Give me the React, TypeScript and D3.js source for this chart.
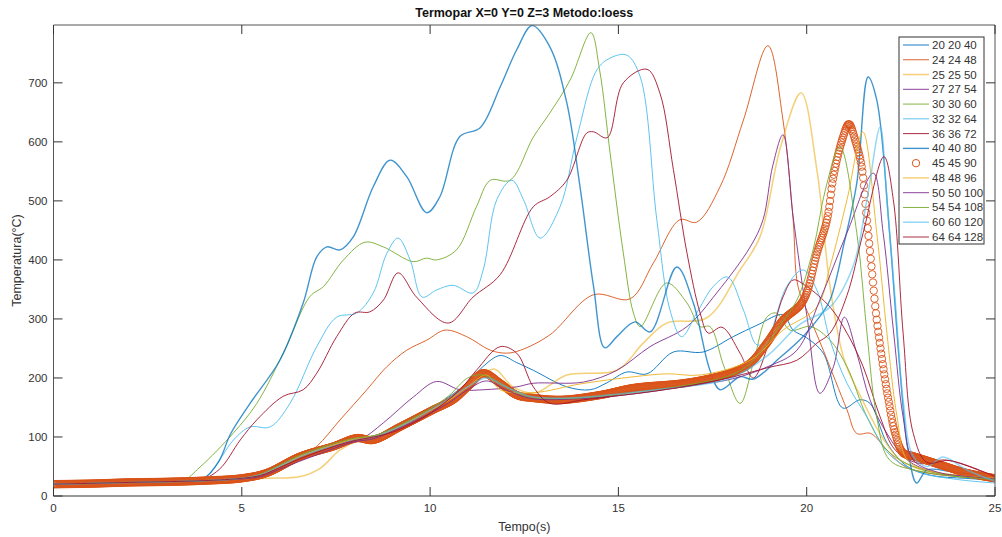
import React, { useEffect, useRef, useState } from 'react';
import * as d3 from 'd3';

const W = 1002, H = 537;
const PL = 53.5, PR = 995, PB = 496, PT = 25;
const FONT = "'Liberation Sans', Arial, Helvetica, sans-serif";

const xTicks = [0, 5, 10, 15, 20, 25];
const yTicks = [0, 100, 200, 300, 400, 500, 600, 700];
const title = 'Termopar X=0 Y=0 Z=3 Metodo:loess';
const xLabel = 'Tempo(s)';
const yLabel = 'Temperatura(°C)';

const T20 = [0,2,4,5,5.5,6,6.5,7,7.5,8,8.5,9,9.5,10,10.5,11,11.4,11.86,12.3,12.74,13.63,14.25,14.7,15.22,15.76,16.46,17.25,18.05,18.7,19.37,19.64,20.0,20.44,20.96,21.41,21.68,22.13,22.67,23.3,24.2,25];
const V20 = [20,23,26,30,36,50,64,76,86,95,102,112,126,145,168,192,219,238,226,213,185,180,192,210,207,244,244,270,290,307,281,268,242,149,163,157,90,50,35,30,27];

const T24 = [0,2,4,5,5.5,6,6.5,6.99,7.61,8.32,8.85,9.38,9.91,10.4,10.97,11.6,12.03,12.4,13.18,14.34,15.31,15.93,16.63,17.08,17.7,18.32,18.97,19.37,19.64,19.77,20.1,20.44,21.07,21.33,21.7,22.13,22.6,23.3,24.2,25];
const V24 = [20,23,26,30,36,48,62,84,129,180,219,247,264,281,270,247,242,247,273,341,334,395,468,464,524,637,763,637,468,355,300,247,146,106,106,78,50,38,32,28];

const T25 = [0,2,4,5,5.66,6.55,7.08,7.61,8.14,8.6,9.2,10,10.6,11.2,11.7,12.2,12.8,13.63,14.96,15.66,16.28,17.35,18.23,18.76,19.3,19.85,20.27,20.62,21.0,21.5,22.0,22.5,23.2,24.2,25];
const V25 = [20,23,25,28,30,33,47,78,95,100,115,145,165,195,215,185,175,205,213,259,293,302,383,439,590,683,553,355,230,160,100,60,42,34,30];

const T27 = [0,2,4,5,5.5,6,6.5,7,7.5,8.14,8.76,9.56,10.17,10.79,11.41,12.3,12.74,14.07,14.96,15.84,16.82,17.61,18.5,18.84,19.1,19.37,19.64,20.01,20.35,20.71,21.0,21.33,21.68,22.13,22.67,23.4,24.2,25];
const V27 = [20,23,26,29,34,45,60,72,84,95,124,168,194,180,180,185,191,193,213,253,287,344,422,468,560,612,473,303,174,219,303,242,163,106,61,40,33,29];

const T30 = [0,2,3.4,3.89,4.78,5.4,6.1,6.81,7.17,7.7,8.27,8.76,9.55,9.9,10.17,10.7,11.23,11.6,12.12,12.74,13.18,13.72,14.27,14.5,14.78,15.13,15.4,15.58,16.28,16.82,17.17,17.43,17.8,18.23,18.6,18.94,19.2,19.56,20.1,20.62,21.07,21.6,22.13,22.83,23.8,25];
const V30 = [20,23,25,49,107,157,242,338,355,400,430,422,397,403,400,417,490,535,535,608,649,705,785,722,581,412,310,287,361,327,287,287,220,157,230,303,310,281,287,264,219,134,78,50,35,28];

const T32 = [0,2,3.8,4.16,4.78,5.22,5.75,6.28,6.99,7.52,8.05,8.49,8.85,9.15,9.47,9.79,10.17,10.61,11.14,11.41,11.77,12.17,12.48,12.92,13.45,13.9,14.43,14.78,15.22,15.58,16.02,16.37,16.68,17.08,17.52,17.9,18.32,18.68,18.94,19.47,19.9,20.27,20.62,21.07,21.6,22.2,23,24,25];
const V32 = [20,23,25,39,95,117,117,157,253,303,310,344,411,437,400,337,349,357,344,383,502,535,502,437,490,608,722,742,747,710,468,315,270,310,355,371,315,256,264,355,383,349,264,191,134,70,40,28,22];

const T36 = [0,2,3.8,4.4,4.96,5.4,6.1,6.63,6.99,7.52,8.0,8.4,8.76,9.15,9.64,10.48,11.14,11.86,12.74,13.18,13.63,14.16,14.34,14.7,15.13,15.76,16.1,16.46,16.82,17.17,17.39,17.75,18.23,18.58,19.0,19.37,19.64,20.0,20.62,21.07,21.5,21.95,22.35,23.0,23.7,25];
const V36 = [20,23,25,45,95,129,169,180,208,270,310,312,332,378,337,293,337,375,490,507,535,615,617,607,700,723,683,553,412,310,276,286,242,200,260,337,366,355,320,276,219,134,78,55,61,32];

const T40 = [0,2,3.6,4.0,4.4,4.7,5.22,6.01,6.63,6.99,7.26,7.61,7.96,8.49,8.94,9.38,9.91,10.26,10.79,11.33,11.86,12.3,12.71,13.18,13.63,13.98,14.34,14.64,14.96,15.44,15.84,16.55,16.99,17.43,17.7,18.23,18.58,19.3,19.9,20.3,20.62,21.0,21.33,21.63,21.86,22.2,22.47,22.69,22.92,23.19,23.8,24.5,25];
const V40 = [20,23,25,30,60,105,157,230,327,405,422,417,439,524,569,541,480,507,609,624,693,756,797,761,666,524,355,251,270,295,278,388,327,213,180,202,198,235,270,300,332,430,530,710,671,446,219,78,22,44,42,35,30];

const T45 = [0,1,2,3,4,5,5.66,6.55,7.43,8.05,8.49,9.2,10.08,10.61,11.0,11.41,11.86,12.3,12.74,13.5,14.51,15.4,16.73,17.5,18.05,18.5,18.94,19.37,19.82,20.0,20.27,20.54,20.71,20.94,21.12,21.3,21.46,21.59,21.72,21.85,22.03,22.17,22.35,22.56,22.8,23.0,23.54,24.25,25];
const V45 = [20,21,23,24,26,30,39,67,84,98,95,117,146,163,185,208,191,171,166,163,171,183,191,200,210,225,259,298,323,344,411,468,541,603,630,600,558,473,389,304,219,163,106,73,68,64,53,39,30];

const T48 = [0,2,4,5,5.5,6,6.5,7,7.5,8,8.5,9,9.5,10,10.5,11,11.5,11.86,12.74,14,15.4,16.3,17.17,18.5,19.37,20.27,20.62,21.07,21.49,21.86,22.13,22.4,22.67,23.3,24.2,25];
const V48 = [20,23,26,30,36,50,66,78,88,97,102,112,128,145,162,185,205,180,175,190,202,207,205,230,281,320,389,502,617,446,276,134,61,42,34,30];

const T50 = [0,2,4,5,5.5,6,6.5,7,7.5,8,8.5,9,9.5,10,10.5,11,11.5,12,12.7,14,15,16,17,18,19,19.74,20.35,21.07,21.77,22.03,22.31,22.56,22.83,23.5,24.3,25];
const V50 = [20,23,26,29,33,45,58,70,82,92,97,110,124,140,158,180,195,180,165,165,170,178,188,198,220,247,332,446,547,446,276,134,61,40,33,29];

const T54 = [0,2,4,5,5.5,6,6.5,7,7.5,8,8.5,9,9.5,10,10.5,11,11.4,11.9,12.5,13.5,15,16,17,18,18.5,19,19.3,19.74,20.17,20.5,20.88,21.33,21.6,21.86,22.2,23,24,25];
const V54 = [20,23,26,30,37,52,68,80,90,98,102,114,130,148,170,200,205,190,170,165,172,180,190,205,225,262,290,332,417,520,592,446,276,134,61,42,33,28];

const T60 = [0,2,4,5,5.5,6,6.5,7,7.5,8,8.5,9,9.5,10,10.5,11,11.5,12,12.7,14,15,16,17,18,19,19.8,20.62,21.23,21.6,21.95,22.13,22.35,22.56,22.83,23.2,23.62,24.25,25];
const V60 = [20,23,26,30,36,50,65,77,86,95,100,112,127,145,165,185,200,185,168,167,173,180,187,200,240,290,320,389,502,625,502,332,163,67,50,66,44,25];

const T64 = [0,2,4,5,5.5,6,6.5,7,7.5,8,8.5,9,9.5,10,10.79,11.23,11.86,12.3,12.74,13.18,14.07,15,16,17,18.05,19.0,19.74,20.27,20.62,21.07,21.5,22.05,22.3,22.56,22.83,23.19,23.8,25];
const V64 = [20,23,26,30,35,48,62,74,85,94,100,108,122,140,180,213,253,242,185,157,163,170,178,188,202,218,230,259,276,340,446,575,502,276,106,57,60,33];

const legendNames = ['20 20 40','24 24 48','25 25 50','27 27 54','30 30 60','32 32 64','36 36 72','40 40 80','45 45 90','48 48 96','50 50 100','54 54 108','60 60 120','64 64 128'];
const seriesT = [T20,T24,T25,T27,T30,T32,T36,T40,T45,T48,T50,T54,T60,T64];
const seriesV = [V20,V24,V25,V27,V30,V32,V36,V40,V45,V48,V50,V54,V60,V64];
const colors = ['#0072BD','#D95319','#EDB120','#7E2F8E','#77AC30','#4DBEEE','#A2142F','#0072BD','#D95319','#EDB120','#7E2F8E','#77AC30','#4DBEEE','#A2142F'];
const widths = [1,1,1.5,1,1,1,1,1.4,0,1,1,1,1.5,1];
const opac = [0.9,0.9,0.6,0.9,0.9,0.9,0.9,0.75,1,0.9,0.9,0.9,0.6,0.9];
const MARKER_INDEX = 8;
const MARKER_STEP = 0.02;

export default function App() {
  const x = d3.scaleLinear().domain([0, 25]).range([PL, PR]);
  const y = d3.scaleLinear().domain([0, 798]).range([PB, PT]);
  const line = d3.line<[number, number]>().x(d => x(d[0])).y(d => y(d[1])).curve(d3.curveCatmullRom.alpha(0.5));
  const pts = (i: number): [number, number][] => {
    const T = seriesT[i], V = seriesV[i];
    const n = Math.min(T.length, V.length);
    const r: [number, number][] = [];
    for (let k = 0; k < n; k++) r.push([T[k], V[k]]);
    return r;
  };
  const markRef = useRef<SVGPathElement>(null);
  const [marks, setMarks] = useState<[number, number][]>([]);
  useEffect(() => {
    const p = markRef.current;
    if (!p) return;
    const L = p.getTotalLength();
    const N = 6000;
    const s: [number, number][] = [];
    for (let i = 0; i <= N; i++) {
      const q = p.getPointAtLength((L * i) / N);
      s.push([q.x, q.y]);
    }
    const out: [number, number][] = [];
    let j = 0;
    const nSteps = Math.round(25 / MARKER_STEP);
    for (let k = 0; k <= nSteps; k++) {
      const px = x(k * MARKER_STEP);
      while (j < N - 1 && s[j + 1][0] < px) j++;
      const a = s[j], b = s[j + 1];
      const f = b[0] - a[0] > 1e-9 ? Math.max(0, Math.min(1, (px - a[0]) / (b[0] - a[0]))) : 0;
      out.push([px, a[1] + f * (b[1] - a[1])]);
    }
    setMarks(out);
  }, []);

  const axisColor = '#555';
  const textColor = '#333';
  const tickLen = 9;
  const legX = 899, legY = 37, legW = 85, legH = 207, legStep = 14.77;

  return (
    <svg width={W} height={H} style={{ position: 'absolute', left: 0, top: 0, background: '#fff' }} fontFamily={FONT}>
      <defs>
        <clipPath id="plotclip"><rect x={PL} y={PT} width={PR - PL} height={PB - PT} /></clipPath>
      </defs>
      <rect x={0} y={0} width={W} height={H} fill="#fff" />
      <g clipPath="url(#plotclip)">
        {seriesT.map((_, i) => {
          if (i === MARKER_INDEX) {
            return (
              <g key={i}>
                <path ref={markRef} d={line(pts(i)) || ''} fill="none" stroke="none" />
                {marks.map((m, k) => (
                  <circle key={k} cx={m[0]} cy={m[1]} r={3.7} fill="none" stroke={colors[i]} strokeWidth={0.9} />
                ))}
              </g>
            );
          }
          return (
            <path key={i} d={line(pts(i)) || ''} fill="none" stroke={colors[i]} strokeWidth={widths[i]} strokeOpacity={opac[i]} strokeLinejoin="round" />
          );
        })}
      </g>
      <line x1={PL} x2={PR} y1={PB} y2={PB} stroke="#333" strokeWidth={1} />
      <line x1={PL} x2={PR} y1={PT} y2={PT} stroke={axisColor} strokeWidth={1} />
      <line x1={PL} x2={PL} y1={PT} y2={PB} stroke={axisColor} strokeWidth={1} />
      <line x1={PR} x2={PR} y1={PT} y2={PB} stroke={axisColor} strokeWidth={1} />
      {xTicks.map(t => (
        <g key={'xt' + t}>
          <line x1={x(t)} x2={x(t)} y1={PB} y2={PB - tickLen} stroke="#333" />
          <line x1={x(t)} x2={x(t)} y1={PT} y2={PT + tickLen} stroke="#333" />
          <text x={x(t)} y={PB + 16} textAnchor="middle" fontSize={11.5} fill={textColor}>{t}</text>
        </g>
      ))}
      {yTicks.map(v => (
        <g key={'yt' + v}>
          <line x1={PL} x2={PL + tickLen} y1={y(v)} y2={y(v)} stroke="#333" />
          <line x1={PR} x2={PR - tickLen} y1={y(v)} y2={y(v)} stroke="#333" />
          <text x={PL - 6} y={y(v) + 4} textAnchor="end" fontSize={11.5} fill={textColor}>{v}</text>
        </g>
      ))}
      <text x={(PL + PR) / 2} y={17} textAnchor="middle" fontSize={12.5} fontWeight="bold" fill="#111">{title}</text>
      <text x={(PL + PR) / 2} y={531} textAnchor="middle" fontSize={12.5} fill={textColor}>{xLabel}</text>
      <text transform={`translate(21,${(PT + PB) / 2}) rotate(-90)`} textAnchor="middle" fontSize={12.5} fill={textColor}>{yLabel}</text>
      <rect x={legX} y={legY} width={legW} height={legH} fill="#fff" stroke="#333" strokeWidth={1} />
      {legendNames.map((nm, i) => {
        const ly = legY + 8 + i * legStep;
        return (
          <g key={'lg' + i}>
            {i === MARKER_INDEX ? (
              <circle cx={916} cy={ly} r={3.7} fill="none" stroke={colors[i]} strokeWidth={1} />
            ) : (
              <line x1={903} x2={929} y1={ly} y2={ly} stroke={colors[i]} strokeWidth={widths[i]} strokeOpacity={opac[i]} />
            )}
            <text x={932} y={ly + 4} fontSize={11.5} fill={textColor}>{nm}</text>
          </g>
        );
      })}
    </svg>
  );
}
